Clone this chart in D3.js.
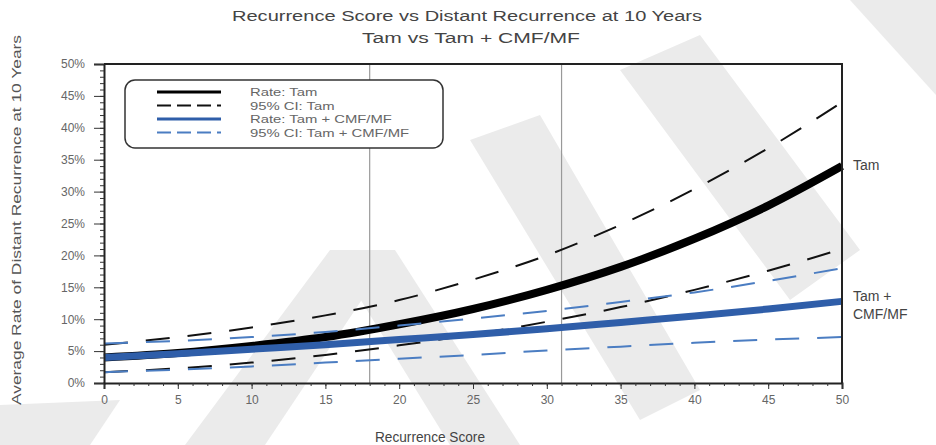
<!DOCTYPE html>
<html>
<head>
<meta charset="utf-8">
<script src="https://cdn.jsdelivr.net/npm/d3@7"></script>
<style>
  body { margin: 0; background: #fff; }
  svg { display: block; font-family: "Liberation Sans", Arial, sans-serif; }
</style>
</head>
<body>
<div id="chart"></div>
<script>
const width = 936, height = 445;
const margin = ({ top: 64, right: 94, bottom: 62, left: 104 });

// recurrence score (x) and rate values (%)
const scores = [0, 5, 10, 15, 20, 25, 30, 35, 40, 45, 50];
const tamRate = [4.0, 4.7, 5.8, 7.2, 9.2, 11.6, 14.6, 18.2, 22.6, 27.8, 34.0];
const tamUpper = [6.0, 7.2, 8.7, 10.6, 13.0, 16.2, 20.0, 24.8, 30.4, 36.8, 44.0];
const tamLower = [1.7, 2.3, 3.2, 4.4, 5.9, 7.6, 9.6, 11.9, 14.6, 17.6, 21.0];
const cmfRate = [4.0, 4.6, 5.3, 6.0, 6.8, 7.6, 8.5, 9.5, 10.5, 11.6, 12.8];
const cmfUpper = [6.2, 6.6, 7.2, 8.0, 9.0, 10.1, 11.3, 12.7, 14.2, 16.0, 18.0];
const cmfLower = [1.7, 2.1, 2.6, 3.2, 3.8, 4.4, 5.1, 5.7, 6.3, 6.8, 7.2];

const cutoffs = [18, 31];
const xTicks = d3.range(0, 51, 5);
const yTicks = d3.range(0, 0.51, 0.05);

const series = [
  { name: "Rate: Tam", values: tamRate, color: "#000", width: 8, dash: null, legendWidth: 3 },
  { name: "95% CI: Tam", values: tamUpper, color: "#111", width: 2, dash: "24,18", legendWidth: 2 },
  { name: "95% CI: Tam", values: tamLower, color: "#111", width: 2, dash: "24,18", legend: false },
  { name: "Rate: Tam + CMF/MF", values: cmfRate, color: "#2f5ea9", width: 7, dash: null, legendWidth: 3 },
  { name: "95% CI: Tam + CMF/MF", values: cmfUpper, color: "#4b7dc2", width: 2, dash: "24,18", legendWidth: 2 },
  { name: "95% CI: Tam + CMF/MF", values: cmfLower, color: "#4b7dc2", width: 2, dash: "24,18", legend: false }
];

const svg = d3.select("#chart").append("svg")
  .attr("width", width)
  .attr("height", height);

// faint watermark shapes in the background
const wm = svg.append("g").attr("fill", "#ebebeb");
[
  [[185, 445], [330, 250], [395, 250], [265, 445]],
  [[330, 250], [395, 250], [520, 445], [450, 445]],
  [[470, 140], [540, 115], [700, 390], [640, 420]],
  [[620, 70], [700, 35], [860, 250], [790, 300]],
  [[850, 0], [936, 0], [936, 95]],
  [[0, 405], [120, 400], [90, 445], [0, 445]]
].forEach(p => wm.append("polygon").attr("points", p.map(q => q.join(",")).join(" ")));

const x = d3.scaleLinear()
  .domain([0, 50])
  .range([margin.left, width - margin.right]);

const y = d3.scaleLinear()
  .domain([0, 0.5])
  .range([height - margin.bottom, margin.top]);

// cutoff lines
svg.append("g")
  .selectAll("line")
  .data(cutoffs)
  .join("line")
  .attr("x1", d => x(d)).attr("x2", d => x(d))
  .attr("y1", y(0.5)).attr("y2", y(0))
  .attr("stroke", "#999")
  .attr("stroke-width", 1.2);

// the lines
const line = d3.line()
  .x((d, i) => x(scores[i]))
  .y(d => y(d / 100))
  .curve(d3.curveMonotoneX);

svg.append("g")
  .selectAll("path")
  .data(series)
  .join("path")
  .attr("d", d => line(d.values))
  .attr("fill", "none")
  .attr("stroke", d => d.color)
  .attr("stroke-width", d => d.width)
  .attr("stroke-dasharray", d => d.dash);

// frame
svg.append("path")
  .attr("d", `M${x(0)},${y(0.5)}H${x(50)}V${y(0)}`)
  .attr("fill", "none")
  .attr("stroke", "#222")
  .attr("stroke-width", 2);

// axes
const xAxis = g => g
  .attr("transform", `translate(0,${y(0)})`)
  .call(d3.axisBottom(x).tickValues(xTicks).tickSize(6).tickPadding(6))
  .call(g => g.append("g")
    .call(d3.axisBottom(x).tickValues(d3.range(0, 51, 1)).tickSize(3).tickFormat(""))
    .call(g => g.select(".domain").remove()));

const yAxis = g => g
  .attr("transform", `translate(${x(0)},0)`)
  .call(d3.axisLeft(y).tickValues(yTicks).tickFormat(d3.format(".0%")).tickSize(10).tickPadding(9))
  .call(g => g.append("g")
    .call(d3.axisLeft(y).tickValues(d3.range(0, 0.501, 0.01)).tickSize(4).tickFormat(""))
    .call(g => g.select(".domain").remove()));

svg.append("g").call(xAxis);
svg.append("g").call(yAxis);

svg.selectAll(".domain").attr("stroke", "#222").attr("stroke-width", 2);
svg.selectAll(".tick line").attr("stroke", "#333");
svg.selectAll(".tick text").attr("fill", "#666").attr("font-size", 12);

// titles
svg.append("text")
  .attr("x", 467).attr("y", 21)
  .attr("text-anchor", "middle")
  .attr("fill", "#444").attr("font-size", 14)
  .attr("textLength", 470).attr("lengthAdjust", "spacingAndGlyphs")
  .text("Recurrence Score vs Distant Recurrence at 10 Years");

svg.append("text")
  .attr("x", 471).attr("y", 43)
  .attr("text-anchor", "middle")
  .attr("fill", "#444").attr("font-size", 14)
  .attr("textLength", 218).attr("lengthAdjust", "spacingAndGlyphs")
  .text("Tam vs Tam + CMF/MF");

svg.append("text")
  .attr("x", 430).attr("y", 442)
  .attr("text-anchor", "middle")
  .attr("fill", "#444").attr("font-size", 14)
  .attr("textLength", 110).attr("lengthAdjust", "spacingAndGlyphs")
  .text("Recurrence Score");

svg.append("text")
  .attr("transform", `translate(21,${220}) rotate(-90)`)
  .attr("text-anchor", "middle")
  .attr("fill", "#555").attr("font-size", 13)
  .attr("textLength", 370).attr("lengthAdjust", "spacingAndGlyphs")
  .text("Average Rate of Distant Recurrence at 10 Years");

// end labels
const endLabels = svg.append("g").attr("fill", "#444").attr("font-size", 14);
endLabels.append("text").attr("x", 853).attr("y", y(tamRate[10] / 100) + 4).text("Tam");
endLabels.append("text").attr("x", 853).attr("y", y(cmfRate[10] / 100) + 0).text("Tam +");
endLabels.append("text").attr("x", 853).attr("y", y(cmfRate[10] / 100) + 18).text("CMF/MF");

// legend
const legendItems = series.filter(d => d.legend !== false);
const legend = svg.append("g").attr("transform", "translate(125,80)");
legend.append("rect")
  .attr("width", 318).attr("height", 68)
  .attr("rx", 10)
  .attr("fill", "#fff")
  .attr("stroke", "#333")
  .attr("stroke-width", 1.5);

const item = legend.selectAll("g.item")
  .data(legendItems)
  .join("g")
  .attr("class", "item")
  .attr("transform", (d, i) => `translate(0,${12 + i * 13.5})`);

item.append("line")
  .attr("x1", 32).attr("x2", 96)
  .attr("stroke", d => d.color)
  .attr("stroke-width", d => d.legendWidth)
  .attr("stroke-dasharray", d => d.dash ? "14,6" : null);

item.append("text")
  .attr("transform", "translate(125,4) scale(1.35,1)")
  .attr("fill", "#666").attr("font-size", 11)
  .text(d => d.name);
</script>
</body>
</html>
